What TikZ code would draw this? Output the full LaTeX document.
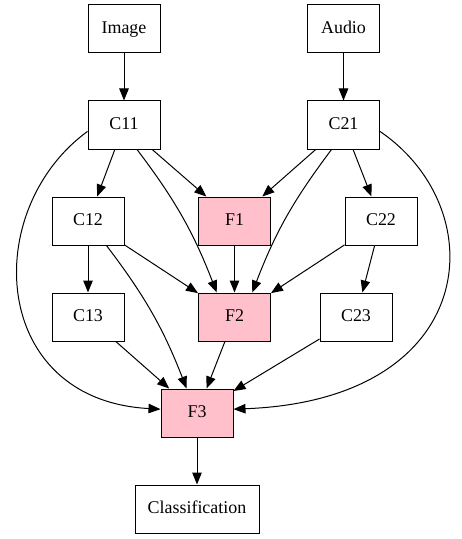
\documentclass[tikz,border=0pt]{standalone}
\usepackage{fontspec}
\setmainfont{Liberation Serif}
\usepackage{xcolor}
\usepackage{tikz}
\usetikzlibrary{positioning, arrows.meta}

\definecolor{fusepink}{HTML}{FFC0CB}

\begin{document}
\begin{tikzpicture}[
        x=1bp, y=-1bp,
        % Plain layer box
        layer/.style={
            rectangle, draw=black, line width=1pt,
            fill=white, inner sep=0pt,
            minimum width=72bp, minimum height=48bp,
            text height=12bp, text depth=3.5bp,
            font=\fontsize{18}{20}\selectfont
        },
        % Fusion box (pink)
        fusion/.style={
            layer, fill=fusepink
        },
        % Connector style: thin line, filled triangle tip
        conn/.style={
            draw=black, line width=1pt,
            -{Triangle[length=12bp, width=9.5bp]}
        }
    ]

        \useasboundingbox (0,0) rectangle (462,539);

        % Nodes
        \node[layer] (Image) at (124,29) {Image};
        \node[layer] (Audio) at (343.5,29) {Audio};
        \node[layer] (C11) at (124,125) {C11};
        \node[layer] (C21) at (343.5,125) {C21};
        \node[layer] (C12) at (88,221) {C12};
        \node[fusion] (F1) at (234.5,221) {F1};
        \node[layer] (C22) at (381,221) {C22};
        \node[layer] (C13) at (88,317) {C13};
        \node[fusion] (F2) at (234.5,317) {F2};
        \node[layer] (C23) at (356,317) {C23};
        \node[fusion] (F3) at (197,413) {F3};
        \node[layer, minimum width=124bp] (Cls) at (197,509) {Classification};

        % Connections
        \draw[conn] (Image) -- (C11);
        \draw[conn] (Audio) -- (C21);

        \draw[conn] (C11) -- (C12);
        \draw[conn] (C11) -- (F1);
        \draw[conn] (C11.-62) to[bend left=8] (F2.126);
        \draw[conn] (C11.190) .. controls (-20,210) and (-10,400) .. (F3.174);

        \draw[conn] (C21) -- (C22);
        \draw[conn] (C21) -- (F1);
        \draw[conn] (C21.-116) to[bend right=8] (F2.54);
        \draw[conn] (C21.-10) .. controls (495,210) and (480,400) .. (F3.6);

        \draw[conn] (C12) -- (C13);
        \draw[conn] (C12) -- (F2);
        \draw[conn] (C12.-53) to[bend left=8] (F3.113);
        \draw[conn] (F1) -- (F2);
        \draw[conn] (C22) -- (F2);
        \draw[conn] (C22) -- (C23);

        \draw[conn] (C13) -- (F3);
        \draw[conn] (F2) -- (F3);
        \draw[conn] (C23) -- (F3);

        \draw[conn] (F3) -- (Cls);

    \end{tikzpicture}
\end{document}
